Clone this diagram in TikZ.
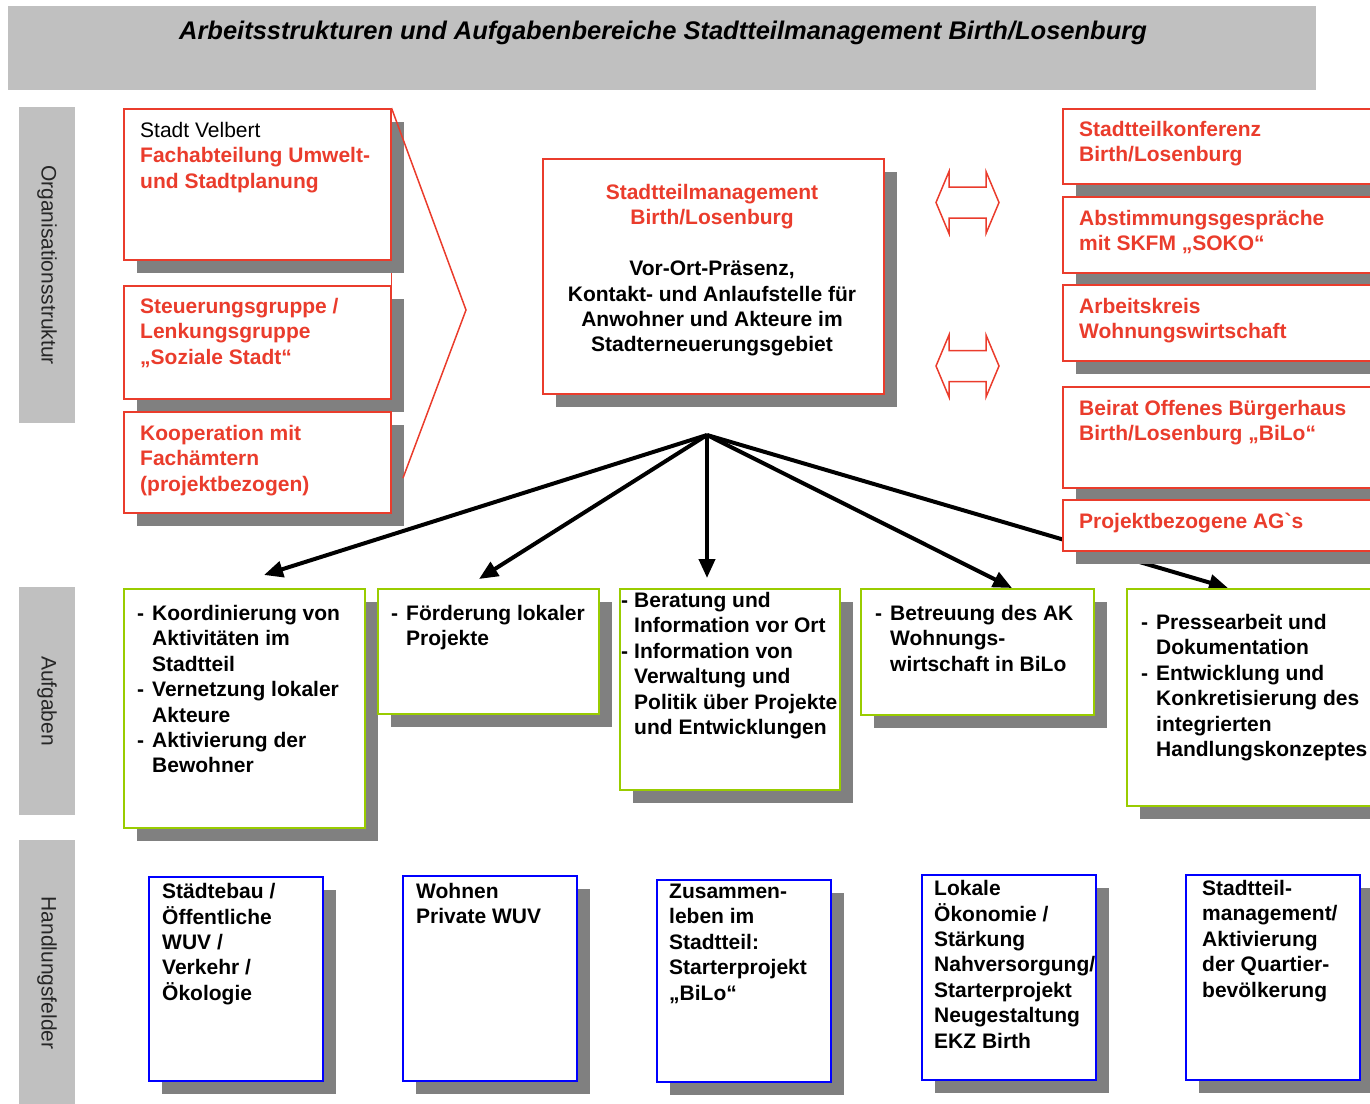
\documentclass[tikz,border=0pt]{standalone}
\usepackage{fontspec}
\setmainfont{Liberation Sans}
\usetikzlibrary{shadows,arrows.meta,backgrounds}
\definecolor{stred}{RGB}{234,60,44}
\definecolor{stgreen}{RGB}{153,204,0}
\definecolor{stblue}{RGB}{0,0,255}
\definecolor{shade}{RGB}{128,128,128}
\definecolor{bar}{RGB}{192,192,192}
\newcommand{\hdash}{\makebox[15pt][l]{-}}
\newcommand{\hind}{\hspace*{15pt}}
\newcommand{\zeilen}[1]{\begin{tabular}[t]{@{}l@{}}#1\end{tabular}}
\newcommand{\zeilenc}[1]{\begin{tabular}[t]{@{}c@{}}#1\end{tabular}}

\begin{document}
\begin{tikzpicture}[x=1pt,y=-1pt,
   box/.style={draw, fill=white, anchor=north west, inner sep=0pt,
      drop shadow={shadow xshift=13pt, shadow yshift=-13pt, fill=shade, opacity=1}},
   orgbox/.style={box, draw=stred, line width=1.5pt},
   taskbox/.style={box, draw=stgreen, line width=2pt},
   fieldbox/.style={box, draw=stblue, line width=1.5pt},
   txt/.style={anchor=base west, inner sep=0pt,
      font=\fontsize{21}{25.4}\selectfont\bfseries},
   redtxt/.style={txt, text=stred},
   side/.style={fill=bar, rotate=-90, minimum height=56pt, inner sep=0pt,
      text=black!85, font=\fontsize{21}{25}\selectfont},
   pfeil/.style={line width=4pt, -{Triangle[length=19pt,width=16pt]}},
   redline/.style={draw=stred, line width=1.5pt}]

\clip (0,0) rectangle (1370,1103);

% title and side bars
\node[fill=bar, anchor=north west, minimum width=1308pt, minimum height=84pt, inner sep=0pt] (title) at (8,6) {};
\node[font=\fontsize{25.5}{30}\selectfont\bfseries\itshape] at (663,33)
   {Arbeitsstrukturen und Aufgabenbereiche Stadtteilmanagement Birth/Losenburg};
\node[side, minimum width=316pt] (orgbar) at (47,265) {Organisationsstruktur};
\node[side, minimum width=228pt] (taskbar) at (47,701) {Aufgaben};
\node[side, minimum width=266pt] (fieldbar) at (47,973) {Handlungsfelder};

% Organisationsstruktur
\node[orgbox, minimum width=267pt, minimum height=151pt] (org1) at (123,108) {};
\node[orgbox, minimum width=267pt, minimum height=113pt] (org2) at (123,285) {};
\node[orgbox, minimum width=267pt, minimum height=101pt] (org3) at (123,411) {};
\node[redtxt] at (140,137.5) {\zeilen{{\color{black}\mdseries Stadt Velbert}\\Fachabteilung Umwelt-\\und Stadtplanung}};
\node[redtxt] at (140,313.5) {\zeilen{Steuerungsgruppe /\\Lenkungsgruppe\\„Soziale Stadt“}};
\node[redtxt] at (140,440.5) {\zeilen{Kooperation mit\\Fachämtern\\(projektbezogen)}};

\coordinate (brace) at (466,310);
\coordinate (braceend) at (403,478);
\draw[redline] (org1.north east) -- (brace) -- (braceend);

\node[orgbox, minimum width=341pt, minimum height=235pt] (stm) at (542,158) {};
\node[txt, anchor=base, text=stred] at (712,199.5)
   {\zeilenc{Stadtteilmanagement\\Birth/Losenburg\\ \\
    \color{black}Vor-Ort-Präsenz,\\
    \color{black}Kontakt- und Anlaufstelle für\\
    \color{black}Anwohner und Akteure im\\
    \color{black}Stadterneuerungsgebiet}};

\foreach \y in {202.5,366}
   \draw[redline] (936,\y) -- ++(13,-31) -- ++(0,15.5) -- ++(37,0) -- ++(0,-15.5)
      -- ++(13,31) -- ++(-13,31) -- ++(0,-15.5) -- ++(-37,0) -- ++(0,15.5) -- cycle;

\node[orgbox, minimum width=330pt, minimum height=75pt] (konf) at (1062,108) {};
\node[orgbox, minimum width=330pt, minimum height=76pt] (soko) at (1062,196) {};
\node[orgbox, minimum width=330pt, minimum height=76pt] (akww) at (1062,284) {};
\node[orgbox, minimum width=330pt, minimum height=101pt] (beirat) at (1062,386) {};
\node[orgbox, minimum width=330pt, minimum height=51pt] (ags) at (1062,499) {};
\node[redtxt] at (1079,136.5) {\zeilen{Stadtteilkonferenz\\Birth/Losenburg}};
\node[redtxt] at (1079,225.5) {\zeilen{Abstimmungsgespräche\\mit SKFM „SOKO“}};
\node[redtxt] at (1079,313.5) {\zeilen{Arbeitskreis\\Wohnungswirtschaft}};
\node[redtxt] at (1079,415.5) {\zeilen{Beirat Offenes Bürgerhaus\\Birth/Losenburg „BiLo“}};
\node[redtxt] at (1079,528.5) {Projektbezogene AG\textasciigrave s};

% Aufgaben
\node[taskbox, minimum width=241pt, minimum height=239pt] (task1) at (123,588) {};
\node[taskbox, minimum width=221pt, minimum height=125pt] (task2) at (377,588) {};
\node[taskbox, minimum width=220pt, minimum height=201pt] (task3) at (619,588) {};
\node[taskbox, minimum width=233pt, minimum height=126pt] (task4) at (860,588) {};
\node[taskbox, minimum width=260pt, minimum height=217pt] (task5) at (1126,588) {};
\node[txt] at (137,620.5) {\zeilen{\hdash Koordinierung von\\\hind Aktivitäten im\\\hind Stadtteil\\
   \hdash Vernetzung lokaler\\\hind Akteure\\\hdash Aktivierung der\\\hind Bewohner}};
\node[txt] at (391,620.5) {\zeilen{\hdash Förderung lokaler\\\hind Projekte}};
\node[txt] at (621,607.5) {\zeilen{\makebox[13pt][l]{-}Beratung und\\\hspace*{13pt}Information vor Ort\\
   \makebox[13pt][l]{-}Information von\\\hspace*{13pt}Verwaltung und\\
   \hspace*{13pt}Politik über Projekte\\\hspace*{13pt}und Entwicklungen}};
\node[txt] at (875,620.5) {\zeilen{\hdash Betreuung des AK\\\hind Wohnungs-\\\hind wirtschaft in BiLo}};
\node[txt] at (1141,629.5) {\zeilen{\hdash Pressearbeit und\\\hind Dokumentation\\\hdash Entwicklung und\\
   \hind Konkretisierung des\\\hind integrierten\\\hind Handlungskonzeptes}};

\begin{pgfonlayer}{background}
   \coordinate (hub) at (707,435);
   \draw[pfeil] (hub) -- ([shift={(141,-13)}]task1.north west);
   \draw[pfeil] (hub) -- ([shift={(102,-9)}]task2.north west);
   \draw[pfeil] (hub) -- ([shift={(88,-10)}]task3.north west);
   \draw[pfeil] (hub) -- ([shift={(152,0)}]task4.north west);
   \draw[pfeil] (hub) -- ([shift={(102,0)}]task5.north west);
   \draw[redline] (org1.south east) -- (org2.north east);
\end{pgfonlayer}

% Handlungsfelder
\node[fieldbox, minimum width=174pt, minimum height=204pt] (feld1) at (148,876) {};
\node[fieldbox, minimum width=174pt, minimum height=205pt] (feld2) at (402,875) {};
\node[fieldbox, minimum width=174pt, minimum height=202pt] (feld3) at (656,879) {};
\node[fieldbox, minimum width=174pt, minimum height=205pt] (feld4) at (921,874) {};
\node[fieldbox, minimum width=174pt, minimum height=205pt] (feld5) at (1185,874) {};
\node[txt] at (162,898.5) {\zeilen{Städtebau /\\Öffentliche\\WUV /\\Verkehr /\\Ökologie}};
\node[txt] at (416,898.5) {\zeilen{Wohnen\\Private WUV}};
\node[txt] at (669,898.5) {\zeilen{Zusammen-\\leben im\\Stadtteil:\\Starterprojekt\\„BiLo“}};
\node[txt] at (934,895.5) {\zeilen{Lokale\\Ökonomie /\\Stärkung\\Nahversorgung/\\Starterprojekt\\Neugestaltung\\EKZ Birth}};
\node[txt] at (1202,895.5) {\zeilen{Stadtteil-\\management/\\Aktivierung\\der Quartier-\\bevölkerung}};

\end{tikzpicture}
\end{document}
